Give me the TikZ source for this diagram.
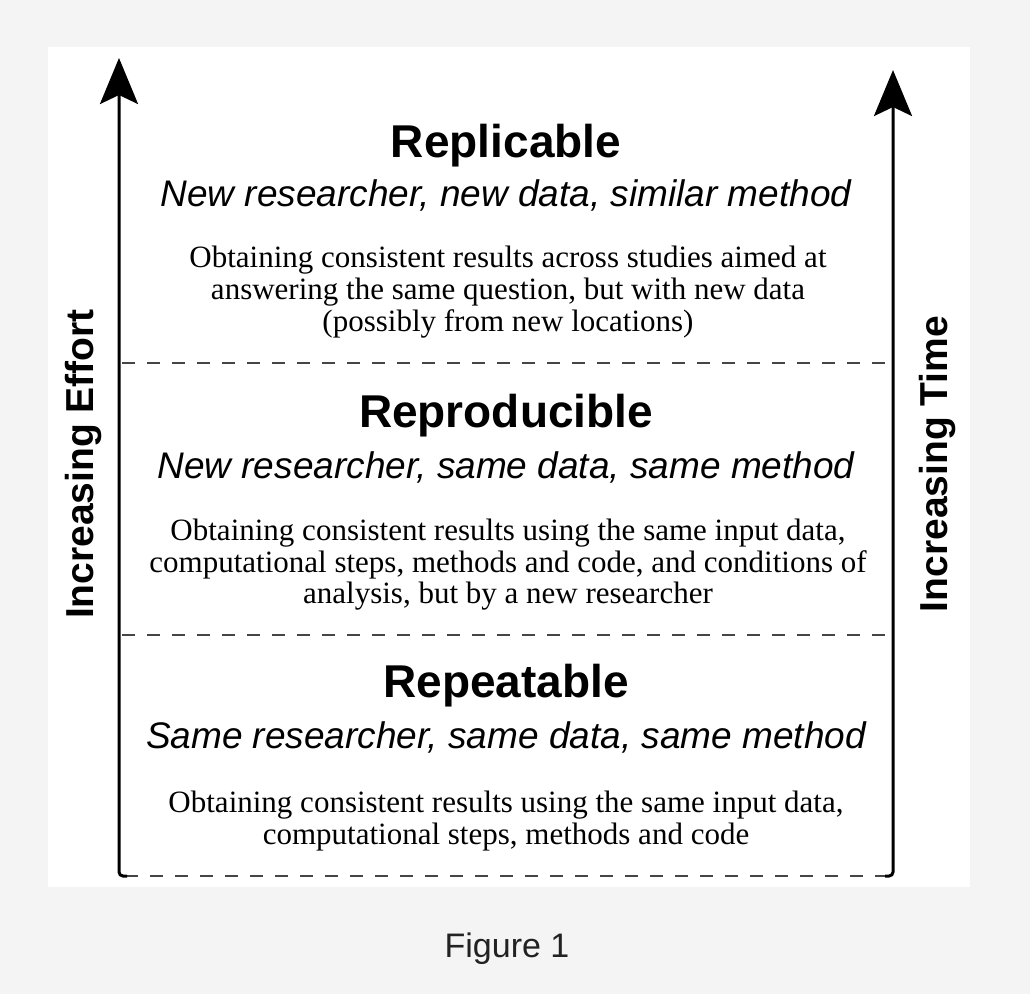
\documentclass[tikz,border=0pt]{standalone}
\usepackage{fontspec}
\setmainfont{Liberation Serif}
\setsansfont{Liberation Sans}
\usetikzlibrary{arrows.meta}
\definecolor{pagebg}{HTML}{F4F4F4}
\definecolor{dashgray}{HTML}{454545}
\definecolor{captioncol}{HTML}{222222}
\tikzset{
  axisline/.style={line width=3pt, black, -{Stealth[length=46pt, width=38pt, inset=9pt]}},
  sepline/.style={line width=2.8pt, dashgray, dash pattern=on 13pt off 12pt},
  heading/.style={anchor=base, inner sep=0pt, font=\sffamily\bfseries\fontsize{46}{50}\selectfont},
  subhead/.style={anchor=base, inner sep=0pt, font=\sffamily\itshape\fontsize{37}{40}\selectfont},
  bodyline/.style={anchor=base, inner sep=0pt, text=black, font=\rmfamily\fontsize{31}{32}\selectfont},
  sidelabel/.style={anchor=base, inner sep=0pt, rotate=90, font=\sffamily\bfseries\fontsize{39}{42}\selectfont},
}
\begin{document}
\begin{tikzpicture}[x=1pt, y=-1pt]
\useasboundingbox (0,0) rectangle (1030,994);
\fill[pagebg] (0,0) rectangle (1030,994);
\fill[white] (48,47) rectangle (970,887);

% anchor points of the frame
\coordinate (lb) at (119,876);
\coordinate (lt) at (119,58);
\coordinate (rb) at (893,876);
\coordinate (rt) at (893,70);
\coordinate (l1) at (119,363);
\coordinate (r1) at (893,363);
\coordinate (l2) at (119,635);
\coordinate (r2) at (893,635);

% dashed separators
\draw[sepline] ([xshift=3pt]l1) -- (r1);
\draw[sepline] ([xshift=3pt]l2) -- (r2);
\draw[sepline] ([xshift=6pt]lb) -- ([xshift=-6pt]rb);

% axes
\draw[axisline, rounded corners=4pt] ([xshift=8pt]lb) -- (lb) -- (lt);
\draw[axisline, rounded corners=4pt] ([xshift=-8pt]rb) -- (rb) -- (rt);

% side labels
\node[sidelabel] (effort) at (93,464) {Increasing Effort};
\node[sidelabel] (time) at (947,464) {Increasing Time};

% Replicable
\node[heading] (h1) at (506,157) {Replicable};
\node[subhead] (s1) at (506,206) {New researcher, new data, similar method};
\node[bodyline] (b1a) at (508,267) {Obtaining consistent results across studies aimed at};
\node[bodyline] (b1b) at (508,299) {answering the same question, but with new data};
\node[bodyline] (b1c) at (508,331) {(possibly from new locations)};

% Reproducible
\node[heading] (h2) at (506,427) {Reproducible};
\node[subhead] (s2) at (506,478) {New researcher, same data, same method};
\node[bodyline] (b2a) at (508,540) {Obtaining consistent results using the same input data,};
\node[bodyline] (b2b) at (508,572) {computational steps, methods and code, and conditions of};
\node[bodyline] (b2c) at (508,603) {analysis, but by a new researcher};

% Repeatable
\node[heading] (h3) at (506,697) {Repeatable};
\node[subhead] (s3) at (506,748) {Same researcher, same data, same method};
\node[bodyline] (b3a) at (506,812) {Obtaining consistent results using the same input data,};
\node[bodyline] (b3b) at (506,844) {computational steps, methods and code};

% caption
\node[anchor=base, inner sep=0pt, text=captioncol, font=\sffamily\fontsize{34}{38}\selectfont] (cap) at (507,957) {Figure 1};
\end{tikzpicture}
\end{document}
